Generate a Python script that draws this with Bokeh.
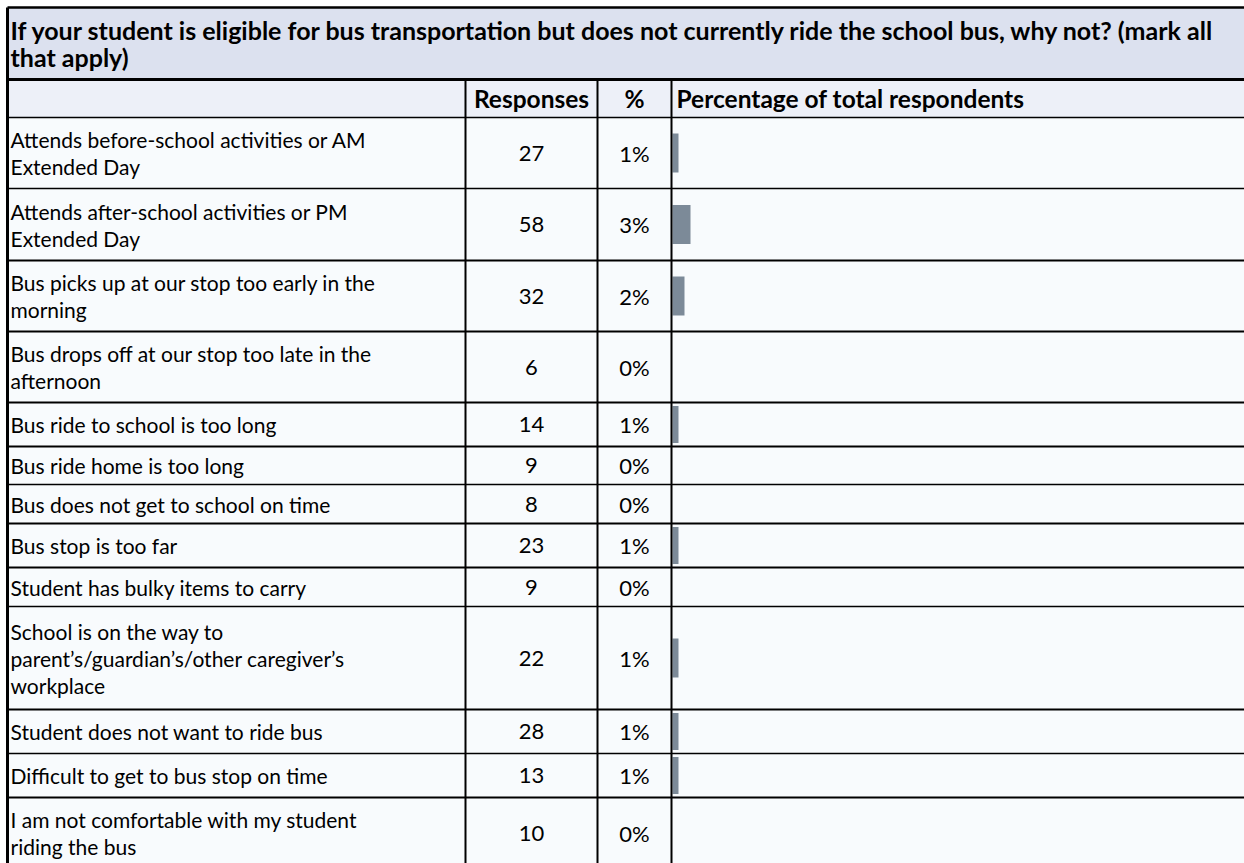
from bokeh.plotting import figure
from bokeh.models import Range1d
from bokeh.core.properties import value
from bokeh.embed import file_html
from bokeh.resources import INLINE

# ---------------- data ----------------
title_lines = [
    "If your student is eligible for bus transportation but does not currently ride the school bus, why not? (mark all",
    "that apply)",
]
col_headers = ["Responses", "%", "Percentage of total respondents"]
labels = [
    "Attends before-school activities or AM\nExtended Day",
    "Attends after-school activities or PM\nExtended Day",
    "Bus picks up at our stop too early in the\nmorning",
    "Bus drops off at our stop too late in the\nafternoon",
    "Bus ride to school is too long",
    "Bus ride home is too long",
    "Bus does not get to school on time",
    "Bus stop is too far",
    "Student has bulky items to carry",
    "School is on the way to\nparent\u2019s/guardian\u2019s/other caregiver\u2019s\nworkplace",
    "Student does not want to ride bus",
    "Difficult to get to bus stop on time",
    "I am not comfortable with my student\nriding the bus",
]
responses = [27, 58, 32, 6, 14, 9, 8, 23, 9, 22, 28, 13, 10]
pct_values = [1, 3, 2, 0, 1, 0, 0, 1, 0, 1, 1, 1, 0]
pct_labels = [f"{v}%" for v in pct_values]

# ---------------- layout (page pixels) ----------------
FONT = "Lato"
FS = "21px"
FS_NUM = "22px"
FS_BOLD = "24.5px"
FS_TITLE = "25px"
LINE_H = 27
W, H = 1244, 863
COL_EDGES = [7, 465, 597, 671, 1260]
TITLE_TOP, TITLE_BOTTOM, HEADER_BOTTOM = 7, 79, 117
ROW_EDGES = [117, 188, 260, 331, 402, 446, 484, 523, 567, 606, 709, 753, 797, 868]
ROW_LINE_W = [1.3, 2, 2, 2, 2, 1.3, 2, 2, 1.3, 2, 1.3, 2, 2]
BAR_X0 = 672
PX_PER_PCT = 6

p = figure(width=W, height=H, x_range=Range1d(0, W), y_range=Range1d(H, 0),
           output_backend="svg", toolbar_location=None, min_border=0,
           x_axis_location=None, y_axis_location=None)
p.grid.visible = False
p.outline_line_color = None
p.background_fill_color = "white"
p.border_fill_color = "white"
p.extra_x_ranges = {"pct": Range1d(start=(0 - BAR_X0) / PX_PER_PCT, end=(W - BAR_X0) / PX_PER_PCT)}

L, R = COL_EDGES[0], COL_EDGES[-1]
# backgrounds
p.quad(left=[L, L, L], right=[R, R, R],
       top=[TITLE_TOP, TITLE_BOTTOM, HEADER_BOTTOM],
       bottom=[TITLE_BOTTOM, HEADER_BOTTOM, ROW_EDGES[-1]],
       fill_color=["#dce1ef", "#edf0f8", "#f8fbfd"], line_color=None)

# bars
n = len(labels)
centers = [(ROW_EDGES[i] + ROW_EDGES[i + 1]) / 2 for i in range(n)]
bar_h = [min(39, ROW_EDGES[i + 1] - ROW_EDGES[i] - 7) for i in range(n)]
p.hbar(y=centers, left=0, right=pct_values, height=bar_h, x_range_name="pct",
       fill_color="#7c8a98", line_color=None)

# grid lines
hx0, hx1, hy0, hy1, hw = [], [], [], [], []
for y, w in [(TITLE_TOP, 2.5), (TITLE_BOTTOM, 3), (HEADER_BOTTOM, 1.5)]:
    hx0.append(L); hx1.append(R); hy0.append(y); hy1.append(y); hw.append(w)
for i in range(n):
    y = ROW_EDGES[i + 1]
    hx0.append(L); hx1.append(R); hy0.append(y); hy1.append(y); hw.append(ROW_LINE_W[i])
p.segment(x0=hx0, x1=hx1, y0=hy0, y1=hy1, line_color="black", line_width=hw)
p.segment(x0=[L], x1=[L], y0=[TITLE_TOP], y1=[ROW_EDGES[-1]], line_color="black", line_width=3)
p.segment(x0=COL_EDGES[1:4], x1=COL_EDGES[1:4], y0=[TITLE_BOTTOM] * 3, y1=[ROW_EDGES[-1]] * 3,
          line_color="black", line_width=2)

# title
ty = [(TITLE_TOP + TITLE_BOTTOM) / 2 + (j - 0.5) * LINE_H for j in range(2)]
p.text(x=[10, 10], y=ty, text=title_lines, text_font=value(FONT), text_font_size=FS_TITLE,
       text_font_style="bold", text_baseline="middle", text_align="left", text_color="black")

# headers
hy = (TITLE_BOTTOM + HEADER_BOTTOM) / 2
p.text(x=[(COL_EDGES[1] + COL_EDGES[2]) / 2, (COL_EDGES[2] + COL_EDGES[3]) / 2], y=[hy, hy],
       text=col_headers[:2], text_font=value(FONT), text_font_size=FS_BOLD, text_font_style="bold",
       text_baseline="middle", text_align="center", text_color="black")
p.text(x=[COL_EDGES[3] + 5], y=[hy], text=col_headers[2:], text_font=value(FONT),
       text_font_size=FS_BOLD, text_font_style="bold", text_baseline="middle", text_align="left",
       text_color="black")

# labels
lx, ly, lt = [], [], []
for i, lab in enumerate(labels):
    lines = lab.split("\n")
    k = len(lines)
    for j, line in enumerate(lines):
        lx.append(10)
        ly.append(centers[i] + (j - (k - 1) / 2) * LINE_H)
        lt.append(line)
p.text(x=lx, y=ly, text=lt, text_font=value(FONT), text_font_size=FS,
       text_baseline="middle", text_align="left", text_color="black")

# numbers
p.text(x=[(COL_EDGES[1] + COL_EDGES[2]) / 2] * n, y=centers, text=[str(v) for v in responses],
       text_font=value(FONT), text_font_size=FS_NUM, text_baseline="middle", text_align="center",
       text_color="black")
p.text(x=[(COL_EDGES[2] + COL_EDGES[3]) / 2] * n, y=centers, text=pct_labels,
       text_font=value(FONT), text_font_size=FS_NUM, text_baseline="middle", text_align="center",
       text_color="black")

open("out.html", "w").write(file_html(p, INLINE))
